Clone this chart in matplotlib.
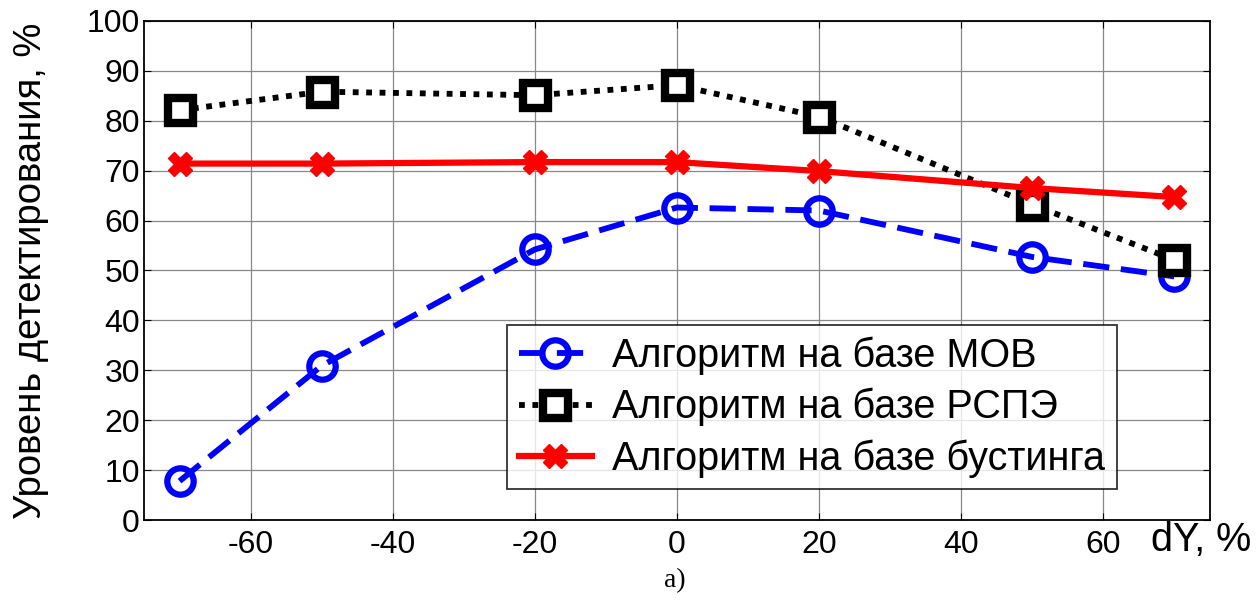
import matplotlib
matplotlib.use("Agg")
import matplotlib.pyplot as plt

plt.rcParams['font.family'] = ['Liberation Sans', 'DejaVu Sans']
plt.rcParams['axes.unicode_minus'] = False

dy = [-70, -50, -20, 0, 20, 50, 70]
mov = [7.8, 30.9, 54.2, 62.6, 62.0, 52.7, 48.8]
rspe = [82.1, 85.8, 85.1, 87.1, 80.8, 63.2, 52.1]
boost = [71.4, 71.4, 71.7, 71.7, 69.9, 66.5, 64.7]
labels = ['Алгоритм на базе МОВ', 'Алгоритм на базе РСПЭ', 'Алгоритм на базе бустинга']

fig = plt.figure(figsize=(12.59, 6.0), dpi=100)
ax = fig.add_axes([0.1144, 0.1333, 0.8465, 0.832])

ax.plot(dy, mov, color='#0000ff', lw=4.2, ls=(0, (4.5, 2.0)), marker='o', ms=19,
        mfc='none', mec='#0000ff', mew=4.5, label=labels[0], zorder=3)
ax.plot(dy, rspe, color='black', lw=4.2, ls=(0, (1, 1.3)), marker='s', ms=18,
        mfc='white', mec='black', mew=6, label=labels[1], zorder=3)
ax.plot(dy, boost, color='#ff0000', lw=4.5, ls='-', marker='X', ms=17,
        mfc='#ff0000', mec='#ff0000', mew=1, label=labels[2], zorder=3)

ax.set_xlim(-75, 75)
ax.set_ylim(0, 100)
ax.set_xticks([-60, -40, -20, 0, 20, 40, 60])
ax.set_yticks(range(0, 101, 10))
ax.grid(True, color='#888888', lw=0.9)
ax.tick_params(direction='in', length=5, labelsize=23, top=True, right=True)
ax.tick_params(axis='y', pad=3)
ax.tick_params(axis='x', pad=7)
for s in ax.spines.values():
    s.set_linewidth(1.3)

ax.set_ylabel('Уровень детектирования, %', fontsize=27.5)
ax.yaxis.set_label_coords(-0.089, 0.5)
fig.text(0.994, 0.1, 'dY, %', fontsize=28.5, ha='right', va='center')
fig.text(0.536, 0.033, 'а)', fontsize=20, ha='center', va='center',
         family=['Liberation Serif', 'DejaVu Serif'])

leg = ax.legend(loc='lower left', bbox_to_anchor=(0.341, 0.062, 0.572, 0.325),
                mode='expand', fontsize=28.5, handlelength=1.85, frameon=True,
                fancybox=False, edgecolor='black', borderaxespad=0,
                labelspacing=0.33, handletextpad=0.5, borderpad=0.28)
leg.get_frame().set_linewidth(1.3)

fig.savefig('out.png', dpi=100)
